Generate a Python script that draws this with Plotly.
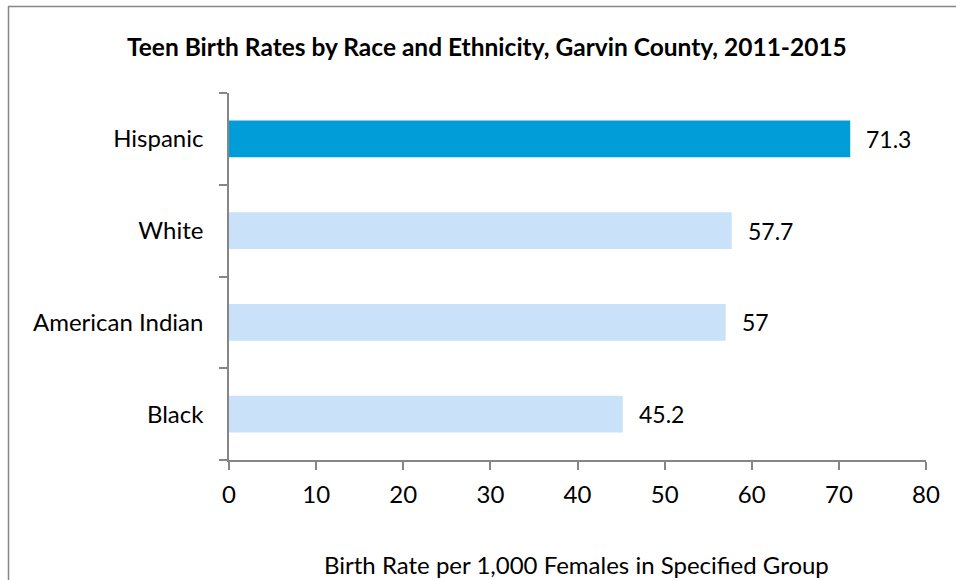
import plotly.graph_objects as go

categories = ["Black", "American Indian", "White", "Hispanic"]
values = [45.2, 57.0, 57.7, 71.3]
labels = ["45.2", "57", "57.7", "71.3"]
colors = ["#C9E2FA", "#C9E2FA", "#C9E2FA", "#009DD9"]
x_ticks = [0, 10, 20, 30, 40, 50, 60, 70, 80]

FONT = "Lato"
W, H = 956, 580
L, R, T, B = 229, 30, 93, 120
pw, ph = W - L - R, H - T - B

def px_x(px):
    return (px - L) / pw

def px_y(py):
    return (H - B - py) / ph

fig = go.Figure()
fig.add_trace(go.Bar(
    x=values, y=categories, orientation="h",
    marker=dict(color=colors, line=dict(width=0)),
    width=0.4, hoverinfo="skip",
))

for c, v, t in zip(categories, values, labels):
    fig.add_annotation(x=v, y=c, text=t, showarrow=False, xanchor="left",
                       xshift=14, font=dict(family=FONT, size=23, color="#000000"))

fig.add_annotation(xref="paper", yref="paper", x=px_x(487), y=px_y(46),
                   text="<b>Teen Birth Rates by Race and Ethnicity, Garvin County, 2011-2015</b>",
                   showarrow=False, xanchor="center", yanchor="middle",
                   font=dict(family=FONT, size=24.5, color="#000000"))
fig.add_annotation(xref="paper", yref="paper", x=px_x(576), y=px_y(564),
                   text="Birth Rate per 1,000 Females in Specified Group",
                   showarrow=False, xanchor="center", yanchor="middle",
                   font=dict(family=FONT, size=24, color="#000000"))

# outer chart border (top and left)
fig.add_shape(type="line", xref="paper", yref="paper",
              x0=px_x(8), x1=px_x(960), y0=px_y(6.5), y1=px_y(6.5),
              line=dict(color="#868686", width=1.5))
fig.add_shape(type="line", xref="paper", yref="paper",
              x0=px_x(8.5), x1=px_x(8.5), y0=px_y(6), y1=px_y(585),
              line=dict(color="#868686", width=1.5))

fig.update_layout(
    width=W, height=H,
    margin=dict(l=L, r=R, t=T, b=B),
    paper_bgcolor="white", plot_bgcolor="white",
    showlegend=False, bargap=0.6,
    xaxis=dict(range=[0, 80], tickvals=x_ticks, ticks="outside", ticklen=8,
               tickcolor="#868686", tickwidth=1.5, showline=True,
               linecolor="#868686", linewidth=1.5, showgrid=False, zeroline=False,
               tickfont=dict(family=FONT, size=24, color="#000000"),
               ticklabelstandoff=4, fixedrange=True),
    yaxis=dict(categoryorder="array", categoryarray=categories,
               range=[-0.5, 3.5], ticks="outside", ticklen=8,
               tickson="boundaries", tickcolor="#868686", tickwidth=1.5,
               showline=True, linecolor="#868686", linewidth=1.5,
               showgrid=False, zeroline=False,
               tickfont=dict(family=FONT, size=24, color="#000000"),
               ticklabelstandoff=19, fixedrange=True),
)

fig.write_html("out.html", config={"displayModeBar": False},
               post_script="document.body.style.margin='0';")
